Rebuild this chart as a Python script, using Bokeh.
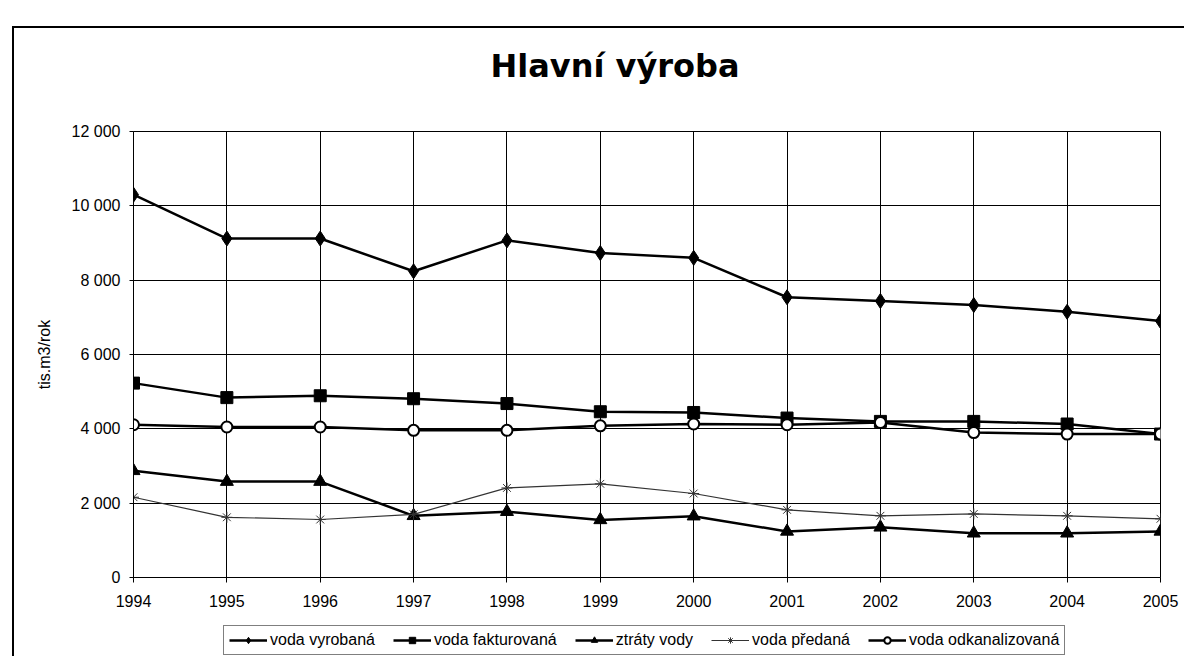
from bokeh.plotting import figure
from bokeh.layouts import column
from bokeh.models import Range1d, FixedTicker, Legend, LegendItem, Label
from bokeh.embed import file_html
from bokeh.resources import INLINE

# ---- data ----
years = [1994, 1995, 1996, 1997, 1998, 1999, 2000, 2001, 2002, 2003, 2004, 2005]
voda_vyrobana = [10300, 9120, 9120, 8240, 9070, 8730, 8600, 7540, 7440, 7330, 7150, 6900]
voda_fakturovana = [5230, 4840, 4890, 4810, 4680, 4460, 4440, 4290, 4200, 4200, 4130, 3860]
ztraty_vody = [2870, 2580, 2580, 1660, 1770, 1550, 1650, 1240, 1350, 1190, 1190, 1240]
voda_predana = [2160, 1620, 1560, 1700, 2410, 2520, 2260, 1820, 1660, 1710, 1660, 1580]
voda_odkanalizovana = [4110, 4050, 4050, 3960, 3960, 4080, 4130, 4110, 4170, 3900, 3860, 3860]
y_ticks = [0, 2000, 4000, 6000, 8000, 10000, 12000]
y_tick_labels = ["0", "2 000", "4 000", "6 000", "8 000", "10 000", "12 000"]
title_text = "Hlavní výroba"
y_label = "tis.m3/rok"
series_names = ["voda vyrobaná", "voda fakturovaná", "ztráty vody", "voda předaná", "voda odkanalizovaná"]

# ---- layout (page pixels) ----
OX, OY = 14, 28            # inner content start (after the 2px chart border)
FL, FR, FT, FB = 133, 1160, 131, 577   # plot frame edges
TOP_H = 72                 # title strip height  (28..100)
W = 1170
P_TOP = OY + TOP_H         # 100
P_H = 518                  # main plot 100..618
LH = 38                    # legend strip 618..656
FONT = "Liberation Sans"

def strip(height, x0, x1, ytop, ybot):
    f = figure(width=W, height=height, output_backend="svg", toolbar_location=None,
               x_range=Range1d(x0, x1), y_range=Range1d(ybot, ytop), min_border=0)
    f.axis.visible = False
    f.grid.visible = False
    f.outline_line_color = None
    f.background_fill_color = "white"
    f.border_fill_color = "white"
    return f

# ---- title strip (frame aligned with the main frame: x 133..1160) ----
tf = strip(TOP_H, FL, FR, OY, P_TOP)
tf.add_layout(Label(x=490, y=65, text=title_text, text_align="left", text_baseline="alphabetic",
                    text_font="DejaVu Sans", text_font_style="bold", text_font_size="32px",
                    text_color="black"))

# ---- main plot ----
p = figure(width=W, height=P_H, output_backend="svg", toolbar_location=None,
           x_range=Range1d(years[0], years[-1]), y_range=Range1d(y_ticks[0], y_ticks[-1]),
           min_border_left=FL - OX, min_border_right=W - (FR - OX),
           min_border_top=FT - P_TOP, min_border_bottom=(P_TOP + P_H) - FB)
p.background_fill_color = "white"
p.border_fill_color = "white"
p.outline_line_color = "black"
p.outline_line_width = 1

p.xgrid.ticker = FixedTicker(ticks=years)
p.ygrid.ticker = FixedTicker(ticks=y_ticks)
for g in (p.xgrid, p.ygrid):
    g.grid_line_color = "black"
    g.grid_line_width = 1

p.xaxis.ticker = FixedTicker(ticks=years)
p.yaxis.ticker = FixedTicker(ticks=y_ticks)
p.yaxis.major_label_overrides = {t: l for t, l in zip(y_ticks, y_tick_labels)}
p.xaxis.major_label_overrides = {y: str(y) for y in years}
for ax in (p.xaxis[0], p.yaxis[0]):
    ax.axis_line_color = "black"
    ax.axis_line_width = 1
    ax.major_tick_line_color = "black"
    ax.minor_tick_line_color = None
    ax.major_tick_in = 0
    ax.major_label_text_font = FONT
    ax.major_label_text_font_size = "16px"
    ax.major_label_text_color = "black"
p.xaxis.major_tick_out = 5
p.xaxis.major_label_standoff = 12
p.yaxis.major_tick_out = 4
p.yaxis.major_label_standoff = 9
p.yaxis.axis_label = y_label
p.yaxis.axis_label_text_font = FONT
p.yaxis.axis_label_text_font_size = "16px"
p.yaxis.axis_label_text_font_style = "normal"
p.yaxis.axis_label_text_color = "black"
p.yaxis.axis_label_standoff = 16

styles = [
    dict(marker="diamond", size=15, fill_color="black", line_color="black", lw=2.5, mlw=1),
    dict(marker="square", size=12, fill_color="black", line_color="black", lw=2.5, mlw=1),
    dict(marker="triangle", size=13, fill_color="black", line_color="black", lw=2.5, mlw=1),
    dict(marker="asterisk", size=11, fill_color=None, line_color="#333333", lw=1.2, mlw=1),
    dict(marker="circle", size=11, fill_color="white", line_color="black", lw=2.5, mlw=2),
]
series = [voda_vyrobana, voda_fakturovana, ztraty_vody, voda_predana, voda_odkanalizovana]

for vals, st in zip(series, styles):
    p.line(years, vals, line_color=st["line_color"], line_width=st["lw"])
    p.scatter(years, vals, marker=st["marker"], size=st["size"], fill_color=st["fill_color"],
              line_color=st["line_color"], line_width=st["mlw"])

# ---- legend strip ----
lf = strip(LH, 0, 1, 1, 0)
items = []
for name, st in zip(series_names, styles):
    # legend-only proxies, placed outside the visible range
    rl = lf.line([-5, -4], [-5, -4], line_color=st["line_color"], line_width=st["lw"])
    rm = lf.scatter([-5], [-5], marker=st["marker"], size=st["size"] - 2, fill_color=st["fill_color"],
                    line_color=st["line_color"], line_width=st["mlw"])
    items.append(LegendItem(label=name, renderers=[rl, rm]))

legend = Legend(items=items, orientation="horizontal",
                location=(223 - FL, (P_TOP + P_H + LH) - 655))
legend.label_text_font = FONT
legend.label_text_font_size = "16px"
legend.label_text_color = "black"
legend.glyph_width = 38
legend.glyph_height = 16
legend.label_standoff = 3
legend.spacing = 18
legend.padding = 5
legend.margin = 0
legend.border_line_color = "black"
legend.border_line_width = 1.5
legend.background_fill_color = "white"
lf.add_layout(legend)

layout = column(tf, p, lf, spacing=0, margin=(OY - 2, 0, 0, OX - 2),
                styles={"border-left": "2px solid black", "border-top": "2px solid black"})

open("out.html", "w").write(file_html(layout, INLINE))
